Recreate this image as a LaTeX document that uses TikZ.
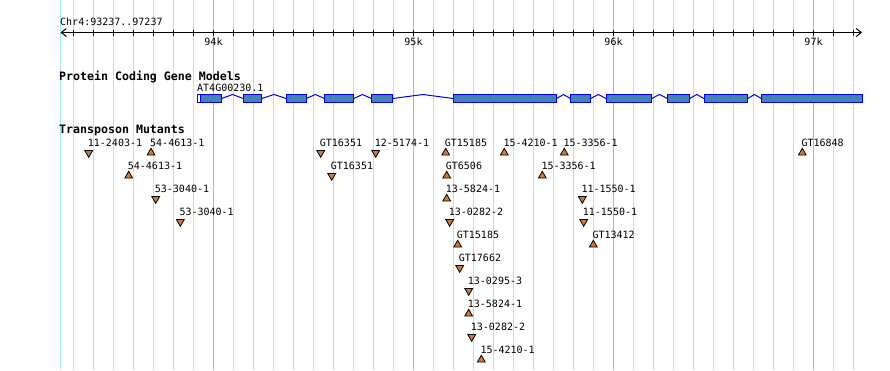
\documentclass[tikz,border=0pt]{standalone}
\usepackage{fontspec}
\setmonofont{DejaVu Sans Mono}
\usetikzlibrary{positioning,shapes.geometric,arrows.meta}

\definecolor{gridcyan}{RGB}{160,236,242}
\definecolor{gridblue}{RGB}{125,200,240}
\definecolor{exonfill}{RGB}{70,130,180}
\definecolor{exonline}{RGB}{0,0,240}
\definecolor{tnfill}{RGB}{212,122,52}

\tikzstyle{tracktitle} = [inner sep=0pt,
anchor=base west,
font=\ttfamily\bfseries\fontsize{11.6}{14}\selectfont]
\tikzstyle{plaintext} = [inner sep=0pt,
anchor=base west,
font=\ttfamily\fontsize{10}{12}\selectfont]
\tikzstyle{ticklabel} = [plaintext, anchor=base]
\tikzstyle{mutlabel} = [inner sep=0pt,
text depth=0pt,
font=\ttfamily\fontsize{10}{12}\selectfont]
\tikzstyle{mutup} = [regular polygon,
regular polygon sides=3,
minimum size=9pt,
inner sep=0pt,
draw=black,
line width=0.8pt,
fill=tnfill]
\tikzstyle{mutdown} = [mutup, shape border rotate=180]
\tikzstyle{exon} = [draw=exonline, fill=exonfill, line width=1pt]
\tikzstyle{intron} = [draw=exonline, line width=1pt]
\tikzstyle{gridline} = [gridcyan, line width=1pt]
\tikzstyle{kline} = [gridblue, line width=1pt]
\tikzstyle{axisline} = [line width=1pt,
{Straight Barb[length=5pt,width=8pt]}-{Straight Barb[length=5pt,width=8pt]}]

\begin{document}
\begin{tikzpicture}[x=1pt, y=-1pt]
\fill[white] (0,0) rectangle (890,370);
\useasboundingbox (0,0) rectangle (890,370);

% grid
\draw [gridline] (60.5,0) -- (60.5,370);
\foreach \gx in {73.5,93.5,...,853.5}
  \draw [gridline] (\gx,0) -- (\gx,370);
\foreach \gx in {213.5,413.5,613.5,813.5}
  \draw [kline] (\gx,0) -- (\gx,370);

% ruler
\node (chrlbl) [plaintext] at (60,25) {Chr4:93237..97237};
\draw [axisline] (60.5,32.5) -- (862,32.5);
\foreach \gx in {73.5,93.5,...,853.5}
  \draw [line width=1pt] (\gx,29.5) -- (\gx,35.5);
\node (k94) [ticklabel] at (213.5,45) {94k};
\node (k95) [ticklabel] at (413.5,45) {95k};
\node (k96) [ticklabel] at (613.5,45) {96k};
\node (k97) [ticklabel] at (813.5,45) {97k};

% gene models
\node (genetitle) [tracktitle] at (59,80) {Protein Coding Gene Models};
\node (genename) [plaintext] at (197,91.7) {AT4G00230.1};
\draw [intron] (221.7,98.5) -- (232.5,94.5) -- (243.3,98.5)
  (261.7,98.5) -- (274,94.5) -- (286.3,98.5)
  (306.3,98.5) -- (315.3,94.5) -- (324.3,98.5)
  (353.7,98.5) -- (362.5,94.5) -- (371.3,98.5)
  (392.7,98.5) -- (423,94.5) -- (453.3,98.5)
  (556.7,98.5) -- (563.5,94.5) -- (570.3,98.5)
  (590.7,98.5) -- (598.3,94.5) -- (606,98.5)
  (651.7,98.5) -- (659.5,94.5) -- (667.3,98.5)
  (689.7,98.5) -- (696.8,94.5) -- (704,98.5)
  (747.7,98.5) -- (754.5,94.5) -- (761.3,98.5);
\draw [exon, fill=white] (197.5,94.5) rectangle (200.7,102.5);
\draw [exon] (200.7,94.5) rectangle (221.7,102.5);
\draw [exon] (243.3,94.5) rectangle (261.7,102.5);
\draw [exon] (286.3,94.5) rectangle (306.3,102.5);
\draw [exon] (324.3,94.5) rectangle (353.7,102.5);
\draw [exon] (371.3,94.5) rectangle (392.7,102.5);
\draw [exon] (453.3,94.5) rectangle (556.7,102.5);
\draw [exon] (570.3,94.5) rectangle (590.7,102.5);
\draw [exon] (606,94.5) rectangle (651.7,102.5);
\draw [exon] (667.3,94.5) rectangle (689.7,102.5);
\draw [exon] (704,94.5) rectangle (747.7,102.5);
\draw [exon] (761.3,94.5) rectangle (862,102.5);

% transposon mutants
\node (tntitle) [tracktitle] at (59,133.3) {Transposon Mutants};

\node (m01) [mutdown] at (88.7,152.8) {};
\node (m01lbl) [mutlabel, above right=6.5pt and -1pt of m01.center] {11-2403-1};
\node (m02) [mutup] at (151,152.8) {};
\node (m02lbl) [mutlabel, above right=6.5pt and -1pt of m02.center] {54-4613-1};
\node (m03) [mutdown] at (320.7,152.8) {};
\node (m03lbl) [mutlabel, above right=6.5pt and -1pt of m03.center] {GT16351};
\node (m04) [mutdown] at (375.7,152.8) {};
\node (m04lbl) [mutlabel, above right=6.5pt and -1pt of m04.center] {12-5174-1};
\node (m05) [mutup] at (445.7,152.8) {};
\node (m05lbl) [mutlabel, above right=6.5pt and -1pt of m05.center] {GT15185};
\node (m06) [mutup] at (504.3,152.8) {};
\node (m06lbl) [mutlabel, above right=6.5pt and -1pt of m06.center] {15-4210-1};
\node (m07) [mutup] at (564.3,152.8) {};
\node (m07lbl) [mutlabel, above right=6.5pt and -1pt of m07.center] {15-3356-1};
\node (m08) [mutup] at (802.3,152.8) {};
\node (m08lbl) [mutlabel, above right=6.5pt and -1pt of m08.center] {GT16848};

\node (m09) [mutup] at (128.7,175.8) {};
\node (m09lbl) [mutlabel, above right=6.5pt and -1pt of m09.center] {54-4613-1};
\node (m10) [mutdown] at (331.7,175.8) {};
\node (m10lbl) [mutlabel, above right=6.5pt and -1pt of m10.center] {GT16351};
\node (m11) [mutup] at (446.7,175.8) {};
\node (m11lbl) [mutlabel, above right=6.5pt and -1pt of m11.center] {GT6506};
\node (m12) [mutup] at (542.3,175.8) {};
\node (m12lbl) [mutlabel, above right=6.5pt and -1pt of m12.center] {15-3356-1};

\node (m13) [mutdown] at (155.7,198.8) {};
\node (m13lbl) [mutlabel, above right=6.5pt and -1pt of m13.center] {53-3040-1};
\node (m14) [mutup] at (446.7,198.8) {};
\node (m14lbl) [mutlabel, above right=6.5pt and -1pt of m14.center] {13-5824-1};
\node (m15) [mutdown] at (582.3,198.8) {};
\node (m15lbl) [mutlabel, above right=6.5pt and -1pt of m15.center] {11-1550-1};

\node (m16) [mutdown] at (180.3,221.8) {};
\node (m16lbl) [mutlabel, above right=6.5pt and -1pt of m16.center] {53-3040-1};
\node (m17) [mutdown] at (449.7,221.8) {};
\node (m17lbl) [mutlabel, above right=6.5pt and -1pt of m17.center] {13-0282-2};
\node (m18) [mutdown] at (583.7,221.8) {};
\node (m18lbl) [mutlabel, above right=6.5pt and -1pt of m18.center] {11-1550-1};

\node (m19) [mutup] at (457.7,244.8) {};
\node (m19lbl) [mutlabel, above right=6.5pt and -1pt of m19.center] {GT15185};
\node (m20) [mutup] at (593.3,244.8) {};
\node (m20lbl) [mutlabel, above right=6.5pt and -1pt of m20.center] {GT13412};

\node (m21) [mutdown] at (459.7,267.8) {};
\node (m21lbl) [mutlabel, above right=6.5pt and -1pt of m21.center] {GT17662};
\node (m22) [mutdown] at (468.7,290.8) {};
\node (m22lbl) [mutlabel, above right=6.5pt and -1pt of m22.center] {13-0295-3};
\node (m23) [mutup] at (468.7,313.8) {};
\node (m23lbl) [mutlabel, above right=6.5pt and -1pt of m23.center] {13-5824-1};
\node (m24) [mutdown] at (471.7,336.8) {};
\node (m24lbl) [mutlabel, above right=6.5pt and -1pt of m24.center] {13-0282-2};
\node (m25) [mutup] at (481.3,359.8) {};
\node (m25lbl) [mutlabel, above right=6.5pt and -1pt of m25.center] {15-4210-1};
\end{tikzpicture}
\end{document}
